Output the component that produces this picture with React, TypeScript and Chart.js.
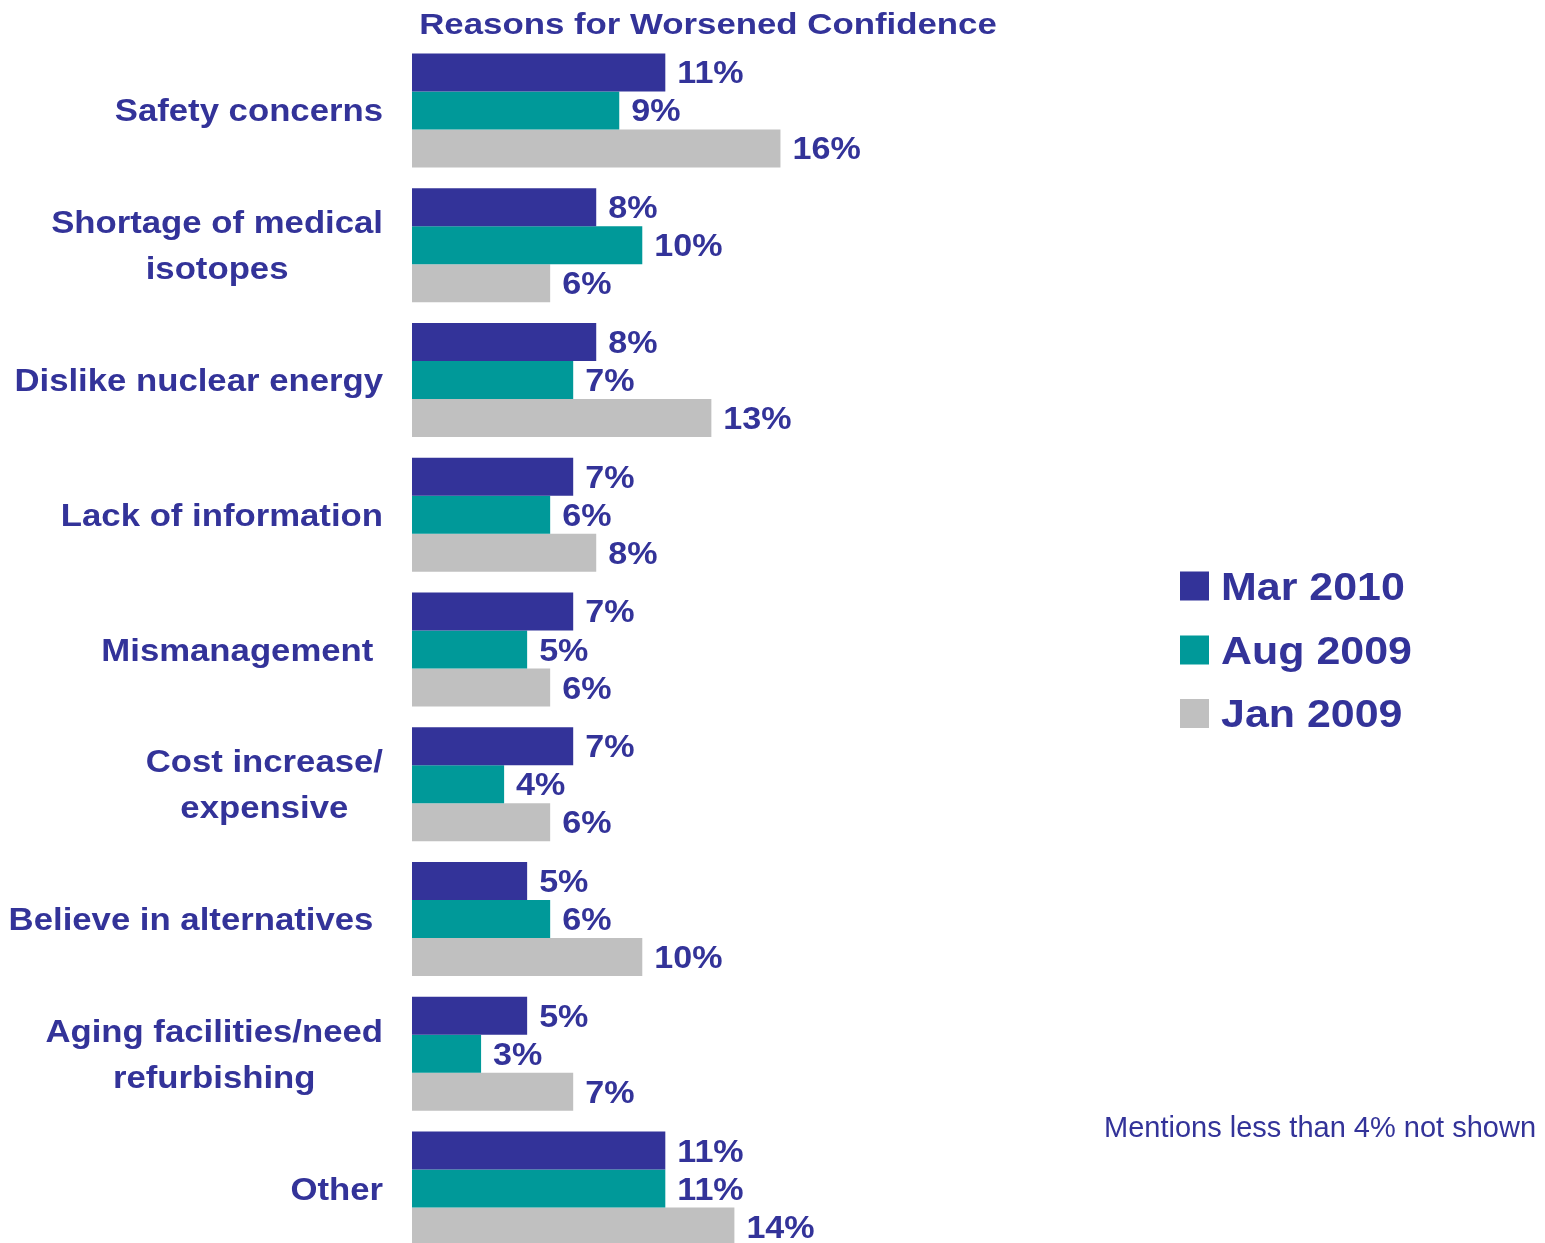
import React, { useEffect, useRef } from "react";
import { Chart, registerables } from "chart.js";

Chart.register(...registerables);

const categories: (string | string[])[] = [
  "Safety concerns",
  ["Shortage of medical", "isotopes"],
  "Dislike nuclear energy",
  "Lack of information",
  "Mismanagement ",
  ["Cost increase/", "expensive"],
  "Believe in alternatives ",
  ["Aging facilities/need", "refurbishing"],
  "Other",
];
const seriesNames = ["Mar 2010", "Aug 2009", "Jan 2009"];
const mar2010 = [11, 8, 8, 7, 7, 7, 5, 5, 11];
const aug2009 = [9, 10, 7, 6, 5, 4, 6, 3, 11];
const jan2009 = [16, 6, 13, 8, 6, 6, 10, 7, 14];
const seriesColors = ["#333399", "#009999", "#C0C0C0"];
const titleText = "Reasons for Worsened Confidence";
const footnoteText = "Mentions less than 4% not shown";

const TEXT = "#333399";
const FAM = '"Liberation Sans", Arial, sans-serif';

function drawText(
  ctx: CanvasRenderingContext2D,
  text: string,
  x: number,
  y: number,
  font: string,
  align: CanvasTextAlign,
  sx: number
) {
  ctx.save();
  ctx.font = font;
  ctx.fillStyle = TEXT;
  ctx.textAlign = align;
  ctx.textBaseline = "alphabetic";
  ctx.translate(x, y);
  ctx.scale(sx, 1);
  ctx.fillText(text, 0, 0);
  ctx.restore();
}

const textPlugin = {
  id: "textPlugin",
  afterDatasetsDraw(chart: any) {
    const ctx: CanvasRenderingContext2D = chart.ctx;
    const yScale = chart.scales.y;
    const area = chart.chartArea;

    // title
    drawText(ctx, titleText, 708, 34, `bold 30px ${FAM}`, "center", 1.16);

    // category labels
    const labFont = `bold 31px ${FAM}`;
    const labSx = 1.12;
    const rightEdge = area.left - 29;
    ctx.save();
    ctx.font = labFont;
    (chart.data.labels as (string | string[])[]).forEach((lab, i) => {
      const lines = Array.isArray(lab) ? lab : [lab];
      const maxW = Math.max(...lines.map((l) => ctx.measureText(l).width)) * labSx;
      const cx = rightEdge - maxW / 2;
      const cy = yScale.getPixelForValue(i);
      lines.forEach((l, k) => {
        const ly = cy + (k - (lines.length - 1) / 2) * 46 + 11;
        drawText(ctx, l, cx, ly, labFont, "center", labSx);
      });
    });
    ctx.restore();

    // value labels
    chart.data.datasets.forEach((ds: any, di: number) => {
      const meta = chart.getDatasetMeta(di);
      meta.data.forEach((bar: any, i: number) => {
        const v = ds.data[i];
        drawText(ctx, `${v}%`, bar.x + 12, bar.y + 11, `bold 31px ${FAM}`, "left", 1.1);
      });
    });

    // legend
    const rows = [586, 650, 713.5];
    chart.data.datasets.forEach((ds: any, di: number) => {
      const cy = rows[di];
      ctx.save();
      ctx.fillStyle = ds.backgroundColor;
      ctx.fillRect(1180, cy - 14.5, 29, 29);
      ctx.restore();
      drawText(ctx, ds.label, 1221, cy + 13.5, `bold 38px ${FAM}`, "left", 1.13);
    });

    // footnote
    drawText(ctx, footnoteText, 1104, 1137, `29px ${FAM}`, "left", 1.0);
  },
};

export default function App() {
  const ref = useRef<HTMLCanvasElement | null>(null);
  useEffect(() => {
    if (!ref.current) return;
    const chart = new Chart(ref.current, {
      type: "bar",
      data: {
        labels: categories as any,
        datasets: [mar2010, aug2009, jan2009].map((d, i) => ({
          label: seriesNames[i],
          data: d,
          backgroundColor: seriesColors[i],
          borderWidth: 0,
          barPercentage: 1,
          categoryPercentage: 0.846,
        })),
      },
      options: {
        indexAxis: "y",
        responsive: false,
        animation: false,
        devicePixelRatio: 1,
        layout: { padding: { left: 412, right: 0, top: 43, bottom: 0 } },
        plugins: {
          legend: { display: false },
          title: { display: false },
          tooltip: { enabled: false },
        },
        scales: {
          x: { display: false, min: 0, max: 49.2, grid: { display: false } },
          y: { display: false, grid: { display: false } },
        },
      },
      plugins: [textPlugin],
    });
    return () => chart.destroy();
  }, []);
  return (
    <div
      style={{
        position: "absolute",
        left: 0,
        top: 0,
        width: 1545,
        height: 1243,
        overflow: "hidden",
        background: "#ffffff",
      }}
    >
      <canvas ref={ref} width={1545} height={1256} style={{ display: "block", width: 1545, height: 1256 }} />
    </div>
  );
}
